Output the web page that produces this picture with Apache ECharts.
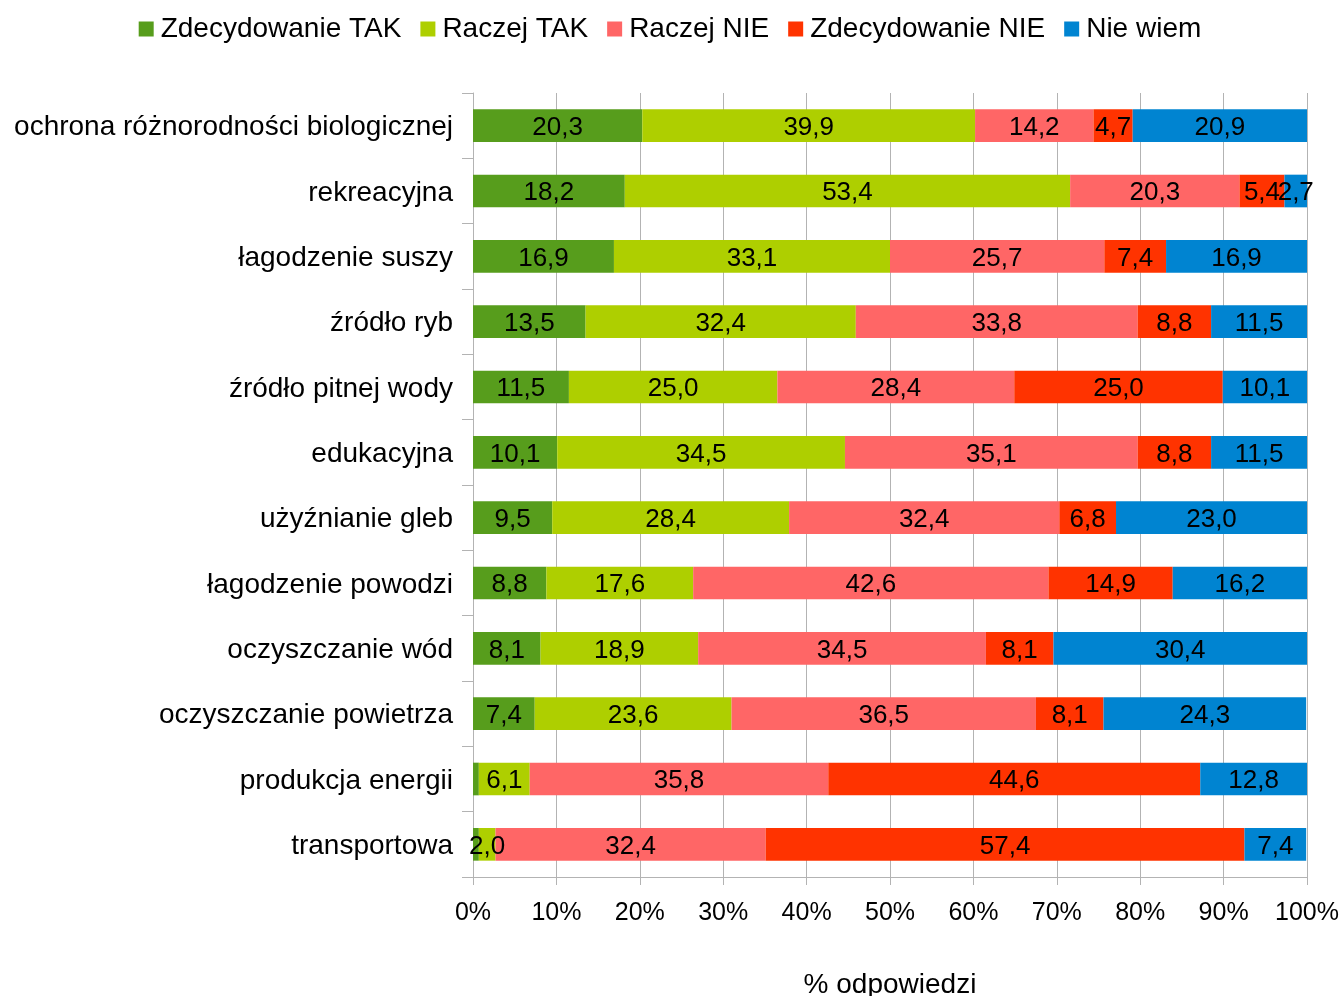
<!DOCTYPE html>
<html><head><meta charset="utf-8">
<script src="https://cdn.jsdelivr.net/npm/echarts@6/dist/echarts.min.js"></script>
<style>html,body{margin:0;padding:0;background:#fff;overflow:hidden}#c{width:1340px;height:996px}</style>
</head><body><div id="c"></div>
<script>
var categories = ["ochrona różnorodności biologicznej","rekreacyjna","łagodzenie suszy","źródło ryb","źródło pitnej wody","edukacyjna","użyźnianie gleb","łagodzenie powodzi","oczyszczanie wód","oczyszczanie powietrza","produkcja energii","transportowa"];
var seriesNames = ["Zdecydowanie TAK","Raczej TAK","Raczej NIE","Zdecydowanie NIE","Nie wiem"];
var zdecTak   = [20.3,18.2,16.9,13.5,11.5,10.1,9.5,8.8,8.1,7.4,0.7,0.7];
var raczejTak = [39.9,53.4,33.1,32.4,25.0,34.5,28.4,17.6,18.9,23.6,6.1,2.0];
var raczejNie = [14.2,20.3,25.7,33.8,28.4,35.1,32.4,42.6,34.5,36.5,35.8,32.4];
var zdecNie   = [4.7,5.4,7.4,8.8,25.0,8.8,6.8,14.9,8.1,8.1,44.6,57.4];
var nieWiem   = [20.9,2.7,16.9,11.5,10.1,11.5,23.0,16.2,30.4,24.3,12.8,7.4];
var xTicks = [0,10,20,30,40,50,60,70,80,90,100];
var colors = ["#579d1c","#aecf00","#ff6666","#ff3300","#0084d1"];
var values = [zdecTak,raczejTak,raczejNie,zdecNie,nieWiem];
var FONT = "Liberation Sans";
var chart = echarts.init(document.getElementById('c'), null, {renderer:'canvas'});
chart.setOption({
  animation:false,
  color: colors,
  textStyle:{fontFamily:FONT},
  legend:{
    top:10, left:'center', itemWidth:15, itemHeight:15, itemGap:19,
    icon:'rect',
    textStyle:{fontSize:28, color:'#000', fontFamily:FONT, padding:[0,0,0,2]},
    data: seriesNames
  },
  grid:{left:473, right:33, top:93, bottom:119, containLabel:false, outerBoundsMode:'none'},
  xAxis:{
    type:'value', min:0, max:100, interval:10,
    name:'% odpowiedzi', nameLocation:'middle', nameGap:94,
    nameTextStyle:{fontSize:28, color:'#000', fontFamily:FONT},
    axisLine:{show:true, lineStyle:{color:'#b3b3b3', width:1}},
    axisTick:{show:true, length:8, lineStyle:{color:'#b3b3b3'}},
    axisLabel:{fontSize:25, color:'#000', margin:24, fontFamily:FONT,
      formatter:function(v){return v+'%';}},
    splitLine:{show:true, lineStyle:{color:'#b3b3b3', width:1}}
  },
  yAxis:{
    type:'category', data:categories, inverse:true,
    axisLine:{show:true, lineStyle:{color:'#b3b3b3', width:1}},
    axisTick:{show:true, length:11, lineStyle:{color:'#b3b3b3'}},
    axisLabel:{fontSize:28, color:'#000', margin:20, fontFamily:FONT,
      formatter:function(v){ return '{a|' + v + '}'; },
      rich:{a:{fontSize:28, color:'#000', fontFamily:FONT, padding:[4,0,0,0]}}},
    splitLine:{show:false}
  },
  series: seriesNames.map(function(n,i){
    return {
      name:n, type:'bar', stack:'total', barWidth:'50%',
      data: values[i],
      itemStyle:{color:colors[i]},
      label:{show:true, position:'inside', offset:[0,2], fontSize:26, color:'#000', fontFamily:FONT,
        formatter:function(p){ return p.value < 1 ? '' : p.value.toFixed(1).replace('.',','); }}
    };
  })
});
</script></body></html>
